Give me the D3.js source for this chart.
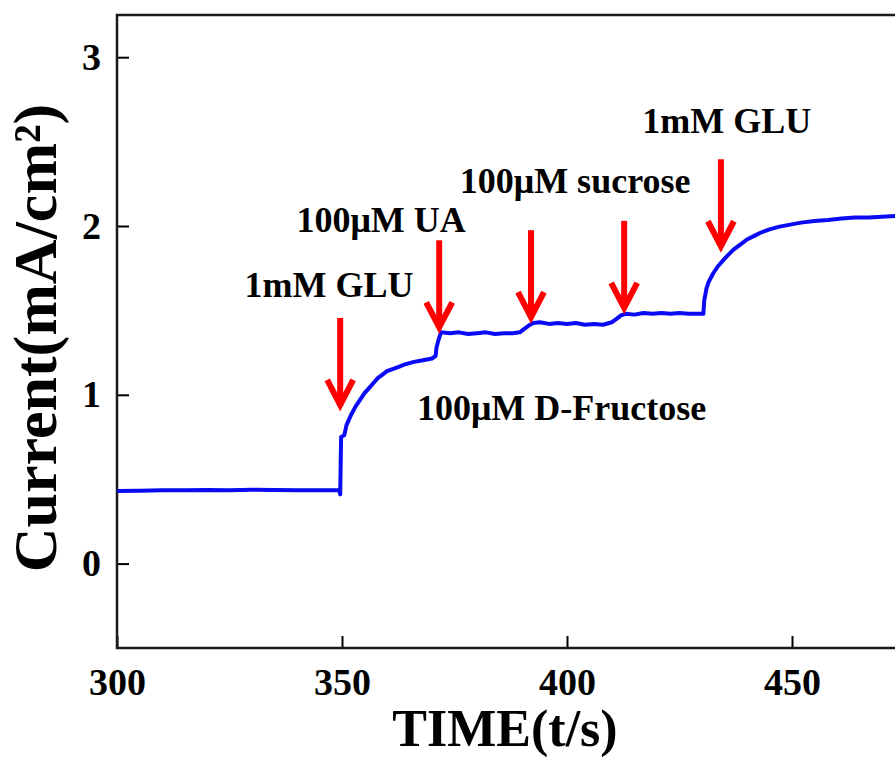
<!DOCTYPE html>
<meta charset="utf-8">
<style>
  body { margin: 0; background: #fff; }
  svg text { font-family: "Liberation Serif", "Times New Roman", serif; font-weight: bold; fill: #000; }
</style>
<script src="https://d3js.org/d3.v7.min.js"></script>
<div id="chart"></div>
<script>
// current trace: time (s) and current (mA/cm2)
var times = [300, 305, 310, 315, 320, 325, 330, 335, 340, 345, 349.4, 349.6, 349.8, 350.5, 351, 352, 353, 354, 355, 356, 357, 358, 359, 360, 362, 364, 366, 368, 370, 370.8, 371, 371.5, 372,
  374, 376, 378, 380, 382, 384, 386, 388, 389.5, 390.5, 391.5, 392.5, 394, 396, 398, 400, 402, 404, 406, 408, 410, 411, 412, 413,
  415, 417, 419, 421, 423, 425, 427, 429, 430.3, 430.5, 431, 431.5, 432.5, 433.5, 434.5, 435.5, 437, 438.5, 440, 441.5, 443, 445, 447, 449,
  452, 455, 458, 461, 464, 467, 470, 473];
var current = [0.43, 0.432, 0.435, 0.434, 0.436, 0.435, 0.438, 0.436, 0.434, 0.435, 0.435, 0.41, 0.75, 0.76, 0.82, 0.88, 0.93, 0.97, 1.01, 1.04, 1.07, 1.10, 1.12, 1.14, 1.16, 1.18, 1.195, 1.205, 1.215, 1.23, 1.28, 1.33, 1.37,
  1.365, 1.37, 1.36, 1.365, 1.37, 1.36, 1.365, 1.365, 1.37, 1.39, 1.41, 1.425, 1.43, 1.42, 1.425, 1.42, 1.425, 1.415, 1.42, 1.415, 1.43, 1.45, 1.47, 1.48,
  1.475, 1.485, 1.48, 1.485, 1.48, 1.485, 1.48, 1.48, 1.48, 1.56, 1.63, 1.67, 1.72, 1.76, 1.79, 1.82, 1.86, 1.89, 1.92, 1.94, 1.96, 1.98, 1.995, 2.005,
  2.02, 2.03, 2.035, 2.045, 2.05, 2.05, 2.055, 2.06];

// injection arrows: time, current at the arrow tip
var arrowTimes = [349.6, 371.6, 392, 412.7, 434.2];
var arrowTips = [0.94, 1.40, 1.46, 1.515, 1.88];

// annotation labels: text, centre time, baseline current
var labelTexts = ["1mM GLU", "100\u03bcM UA", "100\u03bcM sucrose", "1mM GLU", "100\u03bcM D-Fructose"];
var labelTimes = [347.1, 358.7, 401.8, 435.5, 398.8];
var labelValues = [1.58, 1.966, 2.193, 2.55, 0.852];

var xTicks = [300, 350, 400, 450];
var yTicks = [0, 1, 2, 3];

var W = 895, H = 758;
var mLeft = 117, mTop = 15, mBottom = 648, mRight = 117 + 4.5 * 180;

var svg = d3.select("#chart").append("svg")
    .attr("width", W)
    .attr("height", H);

var x = d3.scaleLinear().domain([300, 480]).range([mLeft, mRight]);
var y = d3.scaleLinear().domain([-0.5, 3.25]).range([mBottom, mTop]);

// x axis, ticks pointing inward
var xAxis = svg.append("g")
    .attr("transform", "translate(0," + mBottom + ")")
    .call(d3.axisBottom(x).tickValues(xTicks).tickSizeInner(-12).tickSizeOuter(0).tickPadding(20).tickFormat(d3.format("d")));
xAxis.select(".domain").remove();
xAxis.selectAll("line").attr("stroke", "#000").attr("stroke-width", 2);
xAxis.selectAll("text").attr("font-size", 38).attr("fill", "#000");

var yAxis = svg.append("g")
    .attr("transform", "translate(" + mLeft + ",0)")
    .call(d3.axisLeft(y).tickValues(yTicks).tickSizeInner(-12).tickSizeOuter(0).tickPadding(16).tickFormat(d3.format("d")));
yAxis.select(".domain").remove();
yAxis.selectAll("line").attr("stroke", "#000").attr("stroke-width", 2);
yAxis.selectAll("text").attr("font-size", 38).attr("fill", "#000");

// frame
svg.append("path")
    .attr("d", "M" + (W + 5) + "," + mTop + "H" + mLeft + "V" + mBottom + "H" + (W + 5))
    .attr("fill", "none")
    .attr("stroke", "#1a1a1a")
    .attr("stroke-width", 2.5);

// trace
var pts = times.map(function(t, i) { return [t, current[i]]; });
svg.append("path")
    .datum(pts)
    .attr("fill", "none")
    .attr("stroke", "#0a0af5")
    .attr("stroke-width", 4)
    .attr("stroke-linejoin", "round")
    .attr("d", d3.line().x(function(d) { return x(d[0]); }).y(function(d) { return y(d[1]); }));

// arrows
var arrowLen = 87;
arrowTimes.forEach(function(t, i) {
  var ax = x(t), ay = y(arrowTips[i]);
  svg.append("line")
      .attr("x1", ax).attr("x2", ax)
      .attr("y1", ay - arrowLen).attr("y2", ay - 3)
      .attr("stroke", "#ff0000").attr("stroke-width", 6);
  svg.append("path")
      .attr("d", "M" + (ax - 13) + "," + (ay - 25) + "L" + ax + "," + ay + "L" + (ax + 13) + "," + (ay - 25))
      .attr("fill", "none")
      .attr("stroke", "#ff0000").attr("stroke-width", 6)
      .attr("stroke-linejoin", "miter");
});

// annotations
labelTexts.forEach(function(s, i) {
  svg.append("text")
      .attr("x", x(labelTimes[i]))
      .attr("y", y(labelValues[i]))
      .attr("text-anchor", "middle")
      .attr("font-size", 36)
      .text(s);
});

// axis titles
svg.append("text")
    .attr("x", 505)
    .attr("y", 746)
    .attr("text-anchor", "middle")
    .attr("font-size", 52)
    .text("TIME(t/s)");

svg.append("text")
    .attr("transform", "translate(56,338) rotate(-90)")
    .attr("text-anchor", "middle")
    .attr("font-size", 62)
    .text("Current(mA/cm\u00b2)");
</script>
